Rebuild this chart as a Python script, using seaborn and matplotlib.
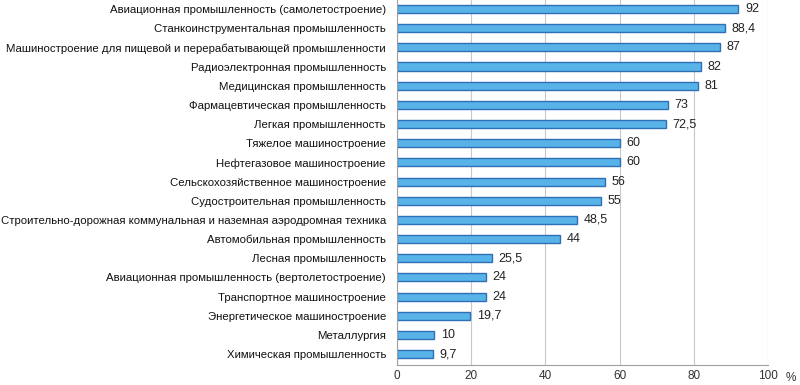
import matplotlib
matplotlib.use("Agg")
import matplotlib.pyplot as plt
import seaborn as sns
import pandas as pd

categories = [
    "Авиационная промышленность (самолетостроение)",
    "Станкоинструментальная промышленность",
    "Машиностроение для пищевой и перерабатывающей промышленности",
    "Радиоэлектронная промышленность",
    "Медицинская промышленность",
    "Фармацевтическая промышленность",
    "Легкая промышленность",
    "Тяжелое машиностроение",
    "Нефтегазовое машиностроение",
    "Сельскохозяйственное машиностроение",
    "Судостроительная промышленность",
    "Строительно-дорожная коммунальная и наземная аэродромная техника",
    "Автомобильная промышленность",
    "Лесная промышленность",
    "Авиационная промышленность (вертолетостроение)",
    "Транспортное машиностроение",
    "Энергетическое машиностроение",
    "Металлургия",
    "Химическая промышленность",
]
values = [92, 88.4, 87, 82, 81, 73, 72.5, 60, 60, 56, 55, 48.5, 44, 25.5, 24, 24, 19.7, 10, 9.7]
value_labels = ["92", "88,4", "87", "82", "81", "73", "72,5", "60", "60", "56", "55",
                "48,5", "44", "25,5", "24", "24", "19,7", "10", "9,7"]
x_ticks = [0, 20, 40, 60, 80, 100]

df = pd.DataFrame({"cat": categories, "val": values})

sns.set_theme(style="white")
plt.rcParams["font.family"] = ["Liberation Sans", "DejaVu Sans"]

fig = plt.figure(figsize=(8, 3.85), dpi=100)
ax = fig.add_axes([397 / 800, 1 - 365 / 385, (768 - 397) / 800, 365 / 385])

sns.barplot(data=df, x="val", y="cat", ax=ax, orient="h", width=0.42,
            color="#58b4e8", edgecolor="#2f6fb5", linewidth=1.0, saturation=1)

for i, (v, lab) in enumerate(zip(values, value_labels)):
    ax.text(v + 1.8, i, lab, va="center", ha="left", fontsize=9, color="#222222")

ax.set_xlim(0, 100)
ax.set_ylim(18.57, -0.47)
ax.set_xticks(x_ticks)
ax.set_xticklabels([str(t) for t in x_ticks], fontsize=8.5, color="#333333")
ax.tick_params(axis="y", labelsize=8.2, length=0, pad=8, labelcolor="#111111")
ax.tick_params(axis="x", length=0, pad=3.5)
ax.set_xlabel("")
ax.set_ylabel("")
ax.grid(axis="x", color="#c8c8c8", linewidth=0.8)
ax.set_axisbelow(True)
ax.spines["top"].set_visible(False)
ax.spines["right"].set_visible(False)
ax.spines["left"].set_color("#a0a0a0")
ax.spines["bottom"].set_color("#a0a0a0")
ax.spines["left"].set_linewidth(0.8)
ax.spines["bottom"].set_linewidth(0.8)

fig.text(786 / 800, 1 - 378 / 385, "%", fontsize=8.5, color="#333333", va="center", ha="left")

fig.savefig("out.png", dpi=100)
